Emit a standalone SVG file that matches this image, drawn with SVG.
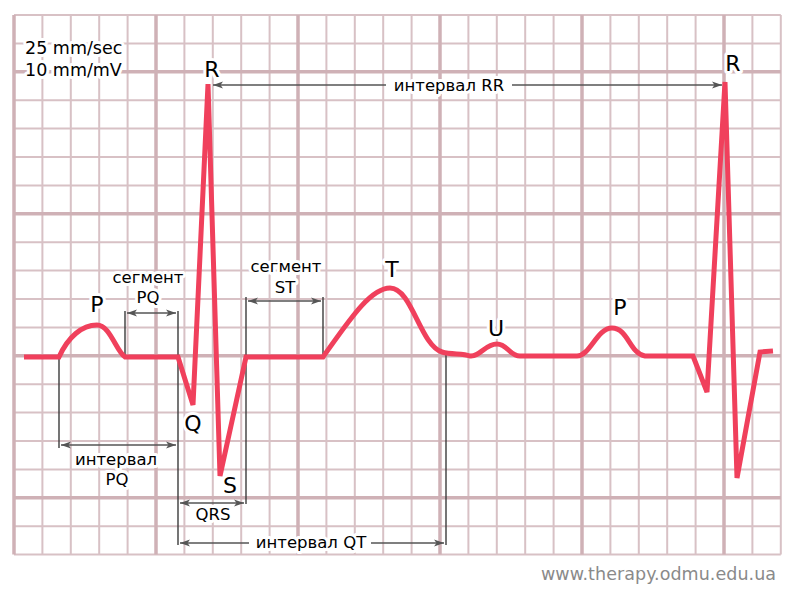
<svg xmlns="http://www.w3.org/2000/svg" width="793" height="591" viewBox="0 0 793 591">
<style>
.thin{stroke:#d8c1c5;stroke-width:2;fill:none}
.thick{stroke:#cfb1b6;stroke-width:3.5;fill:none}
.ecg{stroke:#f0405c;stroke-width:5;fill:none;stroke-linejoin:miter;stroke-miterlimit:4}
.con{stroke:#3c3c3c;stroke-width:1.4;fill:none}
.arr{stroke:#555;stroke-width:1.4;fill:none;marker-start:url(#ah);marker-end:url(#ah)}
.arrS{stroke:#555;stroke-width:1.4;fill:none;marker-start:url(#ah)}
.arrE{stroke:#555;stroke-width:1.4;fill:none;marker-end:url(#ah)}
text{font-family:"DejaVu Sans","Liberation Sans",sans-serif;fill:#000;paint-order:stroke;stroke:#fff;stroke-width:6;stroke-linejoin:round}
.big{font-size:22px;text-anchor:middle}
.sm{font-size:16.5px;text-anchor:middle}
.hdr{font-size:17.5px}
.foot{font-size:17.5px;fill:#8a8a8a;stroke:none;text-anchor:end}
</style>
<defs>
<marker id="ah" markerUnits="userSpaceOnUse" markerWidth="12" markerHeight="9" refX="10" refY="4" orient="auto-start-reverse">
<path d="M0,0.5 L10,4 L0,7.5 L2.5,4 z" fill="#555"/>
</marker>
</defs>
<rect width="793" height="591" fill="#fff"/>
<g id="grid">
<path class="thin" d="M42.4,15V554.6M70.8,15V554.6M99.2,15V554.6M127.6,15V554.6M184.4,15V554.6M212.8,15V554.6M241.2,15V554.6M269.6,15V554.6M326.4,15V554.6M354.8,15V554.6M383.2,15V554.6M411.6,15V554.6M468.4,15V554.6M496.8,15V554.6M525.2,15V554.6M553.6,15V554.6M610.4,15V554.6M638.8,15V554.6M667.2,15V554.6M695.6,15V554.6M752.4,15V554.6M780.8,15V554.6"/>
<path class="thin" d="M14,15H780.8M14,43.4H780.8M14,100.2H780.8M14,128.6H780.8M14,157H780.8M14,185.4H780.8M14,242.2H780.8M14,270.6H780.8M14,299H780.8M14,327.4H780.8M14,384.2H780.8M14,412.6H780.8M14,441H780.8M14,469.4H780.8M14,526.2H780.8M14,554.6H780.8"/>
<path class="thick" d="M14,15V554.6M156,15V554.6M298,15V554.6M440,15V554.6M582,15V554.6M724,15V554.6"/>
<path class="thick" d="M14,71.8H780.8M14,213.8H780.8M14,355.8H780.8M14,497.8H780.8"/>
</g>
<g id="connectors">
<path class="con" d="M59,358V448M125,311V356M178,311V545M246,297V504M323,297V356M446,353V545"/>
<path class="arr" d="M127,313H176"/>
<path class="arr" d="M61,445H176"/>
<path class="arr" d="M248,301H321"/>
<path class="arr" d="M180,503H244"/>
<path class="arrS" d="M180,543H249"/>
<path class="arrE" d="M371,543H444"/>
<path class="arrS" d="M213,85H386"/>
<path class="arrE" d="M512,85H722"/>
</g>
<g id="trace">
<path class="ecg" d="M24,357H59C68,337 82,325 97,325C110,325 116,351 125,357H178L193,405L208,84L220,476L246,357H323C348,322 370,288 390,288C412,288 420,345 442,352C452,355 462,353 470,356C480,357 485,344 497,344C507,344 510,356 520,356H577C590,356 597,328 612,328C628,328 630,354 645,356H693L707,392L725,82L737,478L760,352L773,351"/>
</g>
<g id="label-speed"><text class="hdr" x="25" y="54">25 mm/sec</text><text class="hdr" x="25" y="76">10 mm/mV</text></g>
<g id="label-R1"><text class="big" x="212" y="77">R</text></g>
<g id="label-R2"><text class="big" x="733" y="71">R</text></g>
<g id="label-P1"><text class="big" x="97" y="312">P</text></g>
<g id="label-Q"><text class="big" x="193" y="431">Q</text></g>
<g id="label-S"><text class="big" x="230" y="493">S</text></g>
<g id="label-T"><text class="big" x="392" y="277">T</text></g>
<g id="label-U"><text class="big" x="496" y="336">U</text></g>
<g id="label-P2"><text class="big" x="620" y="315">P</text></g>
<g id="label-segPQ"><text class="sm" x="148" y="283">сегмент</text><text class="sm" x="148" y="303">PQ</text></g>
<g id="label-segST"><text class="sm" x="286" y="272">сегмент</text><text class="sm" x="285" y="293">ST</text></g>
<g id="label-intPQ"><text class="sm" x="116" y="465">интервал</text><text class="sm" x="117" y="485">PQ</text></g>
<g id="label-QRS"><text class="sm" x="213" y="520">QRS</text></g>
<g id="label-QT"><text class="sm" x="311" y="548">интервал QT</text></g>
<g id="label-RR"><text class="sm" x="449" y="91">интервал RR</text></g>
<g id="footer"><text class="foot" x="776" y="580" textLength="235">www.therapy.odmu.edu.ua</text></g>
</svg>
